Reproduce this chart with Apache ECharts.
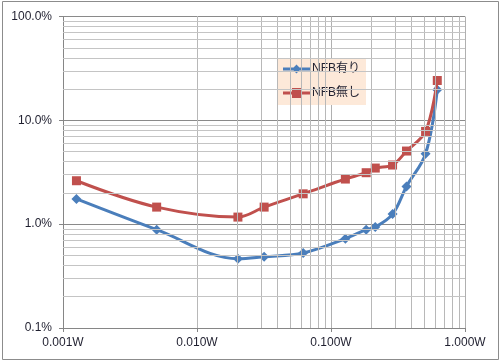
<!DOCTYPE html>
<html><head><meta charset="utf-8">
<script src="https://cdn.jsdelivr.net/npm/echarts@6/dist/echarts.min.js"></script>
<style>html,body{margin:0;padding:0;background:#fff}#c{width:501px;height:362px}</style>
</head><body><div id="c"></div>
<script>
const powerW = [0.00126, 0.0050, 0.0202, 0.0317, 0.062, 0.128, 0.183, 0.214, 0.288, 0.366, 0.508, 0.621];
const thdWithNFB = [1.75, 0.885, 0.465, 0.486, 0.527, 0.724, 0.885, 0.938, 1.25, 2.31, 4.77, 19.7];
const thdWithoutNFB = [2.62, 1.46, 1.17, 1.46, 1.96, 2.72, 3.13, 3.47, 3.71, 5.06, 7.82, 24.2];
const seriesNames = ['NFB有り', 'NFB無し'];
const xMinorGrid = [0.002,0.003,0.004,0.005,0.006,0.007,0.008,0.009,0.02,0.03,0.04,0.05,0.06,0.07,0.08,0.09,0.2,0.3,0.4,0.5,0.6,0.7,0.8,0.9];
const yMinorGrid = [0.2,0.3,0.4,0.5,0.6,0.7,0.8,0.9,2,3,4,5,6,7,8,9,20,30,40,50,60,70,80,90];

const font = '"Liberation Sans","Noto Sans CJK JP",sans-serif';
const chart = echarts.init(document.getElementById('c'), null, {renderer:'canvas'});
const minorLines = [];
xMinorGrid.forEach(v => minorLines.push({xAxis: v, lineStyle:{color:'#b8b8b8', width:1, type:'solid'}}));
yMinorGrid.forEach(v => minorLines.push({yAxis: v, lineStyle:{color:'#c4c4c4', width:1, type:'solid'}}));

const iconBlue = 'path://M0,3.6 L27,3.6 L27,6.4 L0,6.4 Z M13.5,0.6 L17.9,5 L13.5,9.4 L9.1,5 Z';
const iconRed = 'path://M0,3.6 L27,3.6 L27,6.4 L0,6.4 Z M9,0 L18,0 L18,10 L9,10 Z';

chart.setOption({
  animation: false,
  backgroundColor: '#fff',
  graphic: [{type:'rect', shape:{x:2.5, y:1.5, width:496, height:358}, style:{fill:'none', stroke:'#8c8c8c', lineWidth:1}, z:-1}],
  grid: {left: 63, right: 36, top: 16.5, bottom: 34},
  legend: {
    data: [{name: seriesNames[0], icon: iconBlue}, {name: seriesNames[1], icon: iconRed}],
    orient: 'vertical',
    left: 277, top: 58,
    backgroundColor: '#fde9d9',
    padding: [5, 6, 6, 6],
    itemGap: 12,
    itemWidth: 27, itemHeight: 10,
    textStyle: {fontFamily: font, fontSize: 12, color: '#1f1f2f', padding: [0,0,0,-3]},
  },
  xAxis: {
    type: 'log', logBase: 10, min: 0.001, max: 1,
    axisLine: {show: true, lineStyle: {color: '#868686'}},
    axisTick: {show: true, length: 4, lineStyle: {color: '#868686'}},
    axisLabel: {margin: 9, fontFamily: font, fontSize: 12, color: '#1f1f2f',
      formatter: v => Number(v).toFixed(3) + 'W'},
    splitLine: {show: true, lineStyle: {color: '#b0b0b0'}}
  },
  yAxis: {
    type: 'log', logBase: 10, min: 0.1, max: 100,
    axisLine: {show: true, lineStyle: {color: '#868686'}},
    axisTick: {show: true, length: 4, lineStyle: {color: '#868686'}},
    axisLabel: {margin: 11, fontFamily: font, fontSize: 12, color: '#1f1f2f',
      formatter: v => Number(v).toFixed(1) + '%'},
    splitLine: {show: true, lineStyle: {color: '#8a8a8a'}}
  },
  series: [
    {type:'line', name:'grid', data:[], silent:true, legendHoverLink:false,
     markLine:{silent:true, symbol:['none','none'], label:{show:false}, animation:false, data: minorLines}, z:1},
    {type:'line', name: seriesNames[0], data: powerW.map((x,i)=>[x, thdWithNFB[i]]),
     smooth: 0.35, symbol:'diamond', symbolSize: 10,
     itemStyle:{color:'#4a7ebb'}, lineStyle:{color:'#4a7ebb', width:3}, z:3},
    {type:'line', name: seriesNames[1], data: powerW.map((x,i)=>[x, thdWithoutNFB[i]]),
     smooth: 0.35, symbol:'rect', symbolSize: 9,
     itemStyle:{color:'#c0504d'}, lineStyle:{color:'#c0504d', width:3}, z:4}
  ]
});
</script></body></html>
